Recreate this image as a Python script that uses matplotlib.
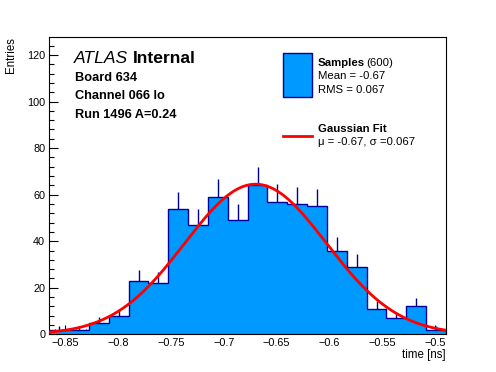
import numpy as np
import matplotlib
matplotlib.use("Agg")
import matplotlib.pyplot as plt
from matplotlib.ticker import MultipleLocator

plt.rcParams['font.family'] = ['Liberation Sans', 'DejaVu Sans']

# histogram data (20 bins)
x_lo, x_hi = -0.865, -0.49
counts = [2, 2, 5, 8, 23, 22, 54, 47, 59, 49, 64, 57, 56, 55, 36, 29, 11, 7, 12, 2]
fit_mu = -0.67
fit_sigma = 0.067
fit_amp = 64.5

fill_col = '#0099ff'
edge_col = '#000099'

W, H = 496, 372
fig = plt.figure(figsize=(W / 100, H / 100), dpi=100)
ax = fig.add_axes([49.3 / W, 1 - 334.3 / H, (446 - 49.3) / W, (334.3 - 37.3) / H])

edges = np.linspace(x_lo, x_hi, len(counts) + 1)
centers = 0.5 * (edges[:-1] + edges[1:])
counts = np.array(counts, dtype=float)
err = np.sqrt(counts)

ax.vlines(centers, counts - err, counts + err, color=edge_col, lw=1.0, zorder=1)
ax.stairs(counts, edges, fill=True, color=fill_col, zorder=2)
ax.stairs(counts, edges, fill=False, baseline=0, color=edge_col, lw=1.0, zorder=3)

xf = np.linspace(x_lo, x_hi, 400)
yf = fit_amp * np.exp(-0.5 * ((xf - fit_mu) / fit_sigma) ** 2)
ax.plot(xf, yf, color='red', lw=2, zorder=4)

ax.set_xlim(x_lo, x_hi)
ax.set_ylim(0, 127.6)
ax.xaxis.set_major_locator(MultipleLocator(0.05))
ax.xaxis.set_minor_locator(MultipleLocator(0.01))
ax.yaxis.set_major_locator(MultipleLocator(20))
ax.yaxis.set_minor_locator(MultipleLocator(4))
ax.tick_params(which='both', direction='in', top=False, right=False, labelsize=7.8, width=0.8)
ax.tick_params(which='major', length=6.5)
ax.tick_params(which='minor', length=3.3)
ax.tick_params(axis='x', pad=3)
ax.tick_params(axis='y', pad=3)
ax.xaxis.set_major_formatter(plt.FuncFormatter(lambda v, p: ('%g' % round(v, 3)).replace('-', '\u2212')))
for s in ax.spines.values():
    s.set_linewidth(0.8)


def ftext(x, y, s, **kw):
    fig.text(x / W, 1 - y / H, s, va='baseline', **kw)


fig.text(11 / W, 1 - 37.3 / H, 'Entries', rotation=90, ha='center', va='top', fontsize=8.3)
ftext(446, 358.3, 'time [ns]', ha='right', fontsize=8.3)

ftext(73.5, 63.3, 'ATLAS', fontsize=12.6, style='italic')
ftext(132.5, 63.3, 'Internal', fontsize=12.6, weight='bold')
ftext(75, 80.7, 'Board 634', fontsize=9.2, weight='bold')
ftext(75, 99.2, 'Channel 066 lo', fontsize=9.2, weight='bold')
ftext(75, 117.7, 'Run 1496 A=0.24', fontsize=9.2, weight='bold')

# legend
leg_box = plt.Rectangle((283.3 / W, 1 - 96.7 / H), 28.4 / W, 43.4 / H,
                        transform=fig.transFigure, facecolor=fill_col, edgecolor=edge_col, lw=1.0)
fig.patches.append(leg_box)
fig.add_artist(plt.Line2D([283.3 / W, 311.7 / W], [1 - 135.7 / H, 1 - 135.7 / H],
                          transform=fig.transFigure, color='red', lw=2))
ftext(317.7, 65.7, 'Samples', fontsize=8.2, weight='bold')
ftext(366.5, 65.7, '(600)', fontsize=8.2)
ftext(317.7, 79.3, 'Mean = -0.67', fontsize=8.2)
ftext(317.7, 93.3, 'RMS = 0.067', fontsize=8.2)
ftext(317.7, 132.3, 'Gaussian Fit', fontsize=8.2, weight='bold')
ftext(317.7, 145, '\u03bc = -0.67, \u03c3 =0.067', fontsize=8.2)

fig.savefig('out.png', dpi=100)
